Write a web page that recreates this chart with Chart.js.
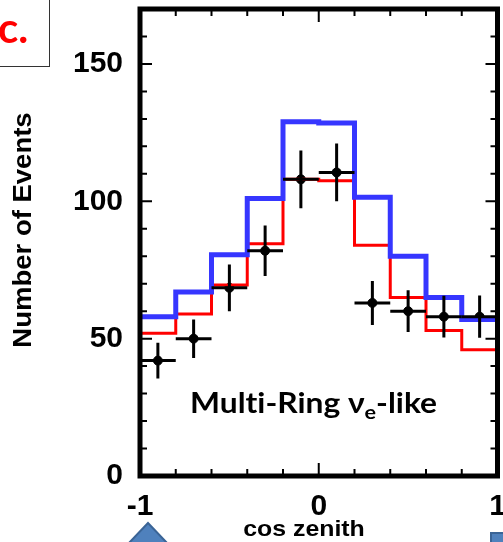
<!DOCTYPE html>
<html>
<head>
<meta charset="utf-8">
<script src="https://cdn.jsdelivr.net/npm/chart.js@4.4.1/dist/chart.umd.min.js"></script>
<style>
  html, body { margin: 0; padding: 0; background: #fff; overflow: hidden; }
  canvas { display: block; }
</style>
</head>
<body>
<canvas id="chart" width="503" height="542"></canvas>
<script>
// bins of cos zenith
const binEdges = [-1, -0.8, -0.6, -0.4, -0.2, 0, 0.2, 0.4, 0.6, 0.8, 1];
const binCenters = [-0.9, -0.7, -0.5, -0.3, -0.1, 0.1, 0.3, 0.5, 0.7, 0.9];
// MC histograms
const blueMC = [58, 67, 80.5, 101, 129, 128.5, 101.5, 80, 65, 57];
const redMC = [52, 59, 69.5, 84.5, 108, 107.5, 84, 65, 53, 46];
// data points and errors
const dataValues = [42, 50, 68.5, 82, 108, 110.5, 63, 60, 58, 58];
const dataErrors = [6.5, 7, 8.5, 9.2, 10.5, 10.5, 8, 7.6, 7.6, 7.7];
// tick labels
const yTickLabels = [0, 50, 100, 150];
const xTickLabels = [-1, 0, 1];

// histogram as step line: one point per left edge + last edge
function stepPoints(vals) {
  return binEdges.map((x, i) => ({ x: x, y: vals[Math.min(i, vals.length - 1)] }));
}

const tickFont = { family: "'Liberation Sans', Arial, sans-serif", weight: "bold", size: 30 };

// error bars on the data points
const errorBars = {
  id: "errorBars",
  afterDatasetsDraw(chart) {
    const { ctx, scales: { x, y } } = chart;
    ctx.save();
    ctx.strokeStyle = "#000";
    ctx.lineWidth = 3;
    binCenters.forEach((c, i) => {
      const px = x.getPixelForValue(c);
      const py = y.getPixelForValue(dataValues[i]);
      ctx.beginPath();
      ctx.moveTo(px, y.getPixelForValue(dataValues[i] - dataErrors[i]));
      ctx.lineTo(px, y.getPixelForValue(dataValues[i] + dataErrors[i]));
      ctx.moveTo(x.getPixelForValue(c - 0.1), py);
      ctx.lineTo(x.getPixelForValue(c + 0.1), py);
      ctx.stroke();
    });
    ctx.restore();
  }
};

// frame, inward ticks, titles and slide bits
const frameAndText = {
  id: "frameAndText",
  afterDraw(chart) {
    const { ctx, chartArea: a, scales: { x, y } } = chart;
    ctx.save();

    // minor / major ticks pointing inside
    ctx.strokeStyle = "#000";
    ctx.lineWidth = 2;
    ctx.beginPath();
    for (let v = 10; v < 170; v += 10) {
      const len = v % 50 === 0 ? 12 : 7;
      const py = y.getPixelForValue(v);
      ctx.moveTo(a.left, py); ctx.lineTo(a.left + len, py);
      ctx.moveTo(a.right, py); ctx.lineTo(a.right - len, py);
    }
    for (let i = -4; i <= 4; i++) {
      const v = i * 0.2;
      const len = i === 0 ? 13 : 7;
      const px = x.getPixelForValue(v);
      ctx.moveTo(px, a.top); ctx.lineTo(px, a.top + len);
      ctx.moveTo(px, a.bottom); ctx.lineTo(px, a.bottom - len);
    }
    ctx.stroke();

    // thick frame
    ctx.lineWidth = 5;
    ctx.strokeRect(a.left, a.top, a.right - a.left, a.bottom - a.top);

    // axis titles
    ctx.fillStyle = "#000";
    ctx.textAlign = "center";
    ctx.textBaseline = "middle";
    ctx.save();
    ctx.translate(24, 230);
    ctx.rotate(-Math.PI / 2);
    ctx.scale(1.1, 1);
    ctx.font = "bold 25px 'Liberation Sans', Arial, sans-serif";
    ctx.fillText("Number of Events", 0, 0);
    ctx.restore();

    ctx.save();
    ctx.translate(304, 530);
    ctx.scale(1.13, 1);
    ctx.font = "bold 22px 'Liberation Sans', Arial, sans-serif";
    ctx.fillText("cos zenith", 0, 0);
    ctx.restore();

    // sample label (ZWNJ keeps "ti" from joining)
    ctx.save();
    ctx.textAlign = "left";
    ctx.textBaseline = "alphabetic";
    const big = "bold 28px Lato, 'Open Sans', sans-serif";
    const small = "bold 19px Lato, 'Open Sans', sans-serif";
    const part1 = "Mult\u200Ci-Ring \u03bd";
    ctx.font = big;
    const w1 = ctx.measureText(part1).width;
    const w3 = ctx.measureText("-like").width;
    ctx.font = small;
    const w2 = ctx.measureText("e").width;
    const sx = 247 / (w1 + w2 + w3);
    ctx.translate(190, 413);
    ctx.scale(sx, 1);
    ctx.font = big;
    ctx.fillText(part1, 0, 0);
    ctx.font = small;
    ctx.fillText("e", w1, 6);
    ctx.font = big;
    ctx.fillText("-like", w1 + w2, 0);
    ctx.restore();

    // panel label box "c."
    ctx.lineWidth = 1;
    ctx.strokeStyle = "#333";
    ctx.strokeRect(-1, -1, 50.5, 67.5);
    ctx.fillStyle = "#ff0000";
    ctx.textAlign = "left";
    ctx.textBaseline = "alphabetic";
    ctx.font = "bold 42px Lato, 'Open Sans', sans-serif";
    ctx.fillText("c.", -2, 43);

    // slide shapes peeking in at the bottom
    ctx.fillStyle = "#4f81bd";
    ctx.strokeStyle = "#3a6496";
    ctx.lineWidth = 2;
    ctx.beginPath();
    ctx.moveTo(148, 523);
    ctx.lineTo(127, 545);
    ctx.lineTo(169, 545);
    ctx.closePath();
    ctx.fill();
    ctx.stroke();
    ctx.beginPath();
    ctx.rect(491, 533, 20, 20);
    ctx.fill();
    ctx.stroke();

    ctx.restore();
  }
};

new Chart(document.getElementById("chart"), {
  type: "line",
  data: {
    datasets: [
      {
        data: stepPoints(blueMC),
        stepped: "before",
        borderColor: "#3636ff",
        borderWidth: 5,
        pointRadius: 0,
        fill: false
      },
      {
        data: stepPoints(redMC),
        stepped: "before",
        borderColor: "#ff0000",
        borderWidth: 3,
        pointRadius: 0,
        fill: false
      },
      {
        type: "scatter",
        data: binCenters.map((c, i) => ({ x: c, y: dataValues[i] })),
        pointRadius: 4.5,
        pointBackgroundColor: "#000",
        pointBorderColor: "#000",
        showLine: false
      }
    ]
  },
  options: {
    responsive: false,
    animation: false,
    devicePixelRatio: 1,
    layout: { padding: { top: 9, right: 4, left: 0, bottom: 0 } },
    plugins: { legend: { display: false }, tooltip: { enabled: false } },
    scales: {
      x: {
        type: "linear",
        min: -1,
        max: 1,
        grid: { display: false },
        border: { display: false },
        ticks: { color: "#000", font: tickFont, padding: 5, maxRotation: 0, autoSkip: false },
        afterBuildTicks: (s) => { s.ticks = xTickLabels.map((v) => ({ value: v })); },
        afterFit: (s) => { s.height = 66; s.paddingLeft = 0; s.paddingRight = 0; }
      },
      y: {
        type: "linear",
        min: 0,
        max: 170,
        grid: { display: false },
        border: { display: false },
        ticks: { color: "#000", font: tickFont, padding: 9 },
        afterBuildTicks: (s) => { s.ticks = yTickLabels.map((v) => ({ value: v })); },
        afterFit: (s) => { s.width = 140; s.paddingTop = 0; s.paddingBottom = 0; }
      }
    }
  },
  plugins: [errorBars, frameAndText]
});
</script>
</body>
</html>
